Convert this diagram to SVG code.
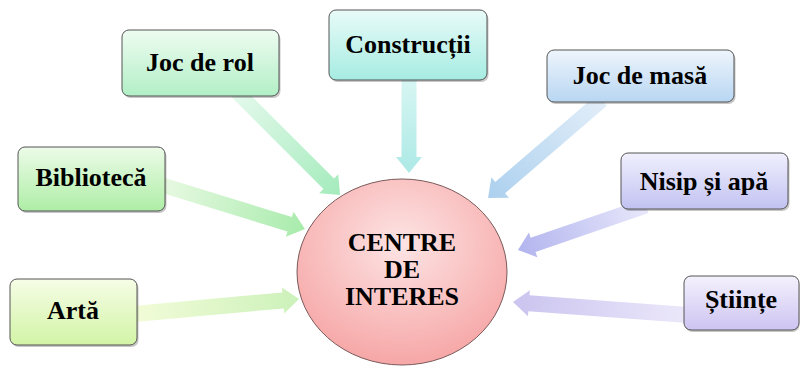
<svg xmlns="http://www.w3.org/2000/svg" width="800" height="366" viewBox="0 0 800 366">
<defs>
  <linearGradient id="gRol" x1="0" y1="0" x2="0" y2="1"><stop offset="0" stop-color="#eefcf1"/><stop offset="1" stop-color="#b2efc6"/></linearGradient>
  <linearGradient id="gCon" x1="0" y1="0" x2="0" y2="1"><stop offset="0" stop-color="#e8fbf8"/><stop offset="1" stop-color="#a6ece2"/></linearGradient>
  <linearGradient id="gMas" x1="0" y1="0" x2="0" y2="1"><stop offset="0" stop-color="#eef5fc"/><stop offset="1" stop-color="#b8d6f2"/></linearGradient>
  <linearGradient id="gNis" x1="0" y1="0" x2="0" y2="1"><stop offset="0" stop-color="#f0f0fd"/><stop offset="1" stop-color="#c2c2f2"/></linearGradient>
  <linearGradient id="gBib" x1="0" y1="0" x2="0" y2="1"><stop offset="0" stop-color="#ecfbe8"/><stop offset="1" stop-color="#aeeea6"/></linearGradient>
  <linearGradient id="gArt" x1="0" y1="0" x2="0" y2="1"><stop offset="0" stop-color="#f6fde6"/><stop offset="1" stop-color="#d2f4a6"/></linearGradient>
  <linearGradient id="gSti" x1="0" y1="0" x2="0" y2="1"><stop offset="0" stop-color="#f4f1fd"/><stop offset="1" stop-color="#cdc4f2"/></linearGradient>
  <linearGradient id="aRol" x1="0" y1="0" x2="1" y2="0"><stop offset="0" stop-color="#e4f9ec"/><stop offset="1" stop-color="#a4ebbc"/></linearGradient>
  <linearGradient id="aCon" x1="0" y1="0" x2="1" y2="0"><stop offset="0" stop-color="#d8f6f3"/><stop offset="1" stop-color="#ace9e5"/></linearGradient>
  <linearGradient id="aMas" x1="0" y1="0" x2="1" y2="0"><stop offset="0" stop-color="#e2eef9"/><stop offset="1" stop-color="#acd0ee"/></linearGradient>
  <linearGradient id="aNis" x1="0" y1="0" x2="1" y2="0"><stop offset="0" stop-color="#e8e8fb"/><stop offset="1" stop-color="#b2b4ee"/></linearGradient>
  <linearGradient id="aBib" x1="0" y1="0" x2="1" y2="0"><stop offset="0" stop-color="#e8f9e2"/><stop offset="1" stop-color="#a8ebac"/></linearGradient>
  <linearGradient id="aArt" x1="0" y1="0" x2="1" y2="0"><stop offset="0" stop-color="#f2fcd8"/><stop offset="1" stop-color="#ccf1ba"/></linearGradient>
  <linearGradient id="aSti" x1="0" y1="0" x2="1" y2="0"><stop offset="0" stop-color="#ece8fa"/><stop offset="1" stop-color="#cac4ef"/></linearGradient>
  <radialGradient id="gCirc" cx="0.5" cy="0.35" r="0.7"><stop offset="0" stop-color="#fde4e4"/><stop offset="1" stop-color="#f6a2a2"/></radialGradient>
</defs>

<g id="connectors">
  <polygon transform="translate(237,92) rotate(45)" fill="url(#aRol)" points="0,-7.5 129.7,-7.5 129.7,-13.5 145.7,0 129.7,13.5 129.7,7.5 0,7.5"/>
  <polygon transform="translate(409,78) rotate(90)" fill="url(#aCon)" points="0,-7.5 79,-7.5 79,-13 95,0 79,13 79,7.5 0,7.5"/>
  <polygon transform="translate(602,100) rotate(139.3)" fill="url(#aMas)" points="0,-7.5 134.3,-7.5 134.3,-13.5 150.3,0 134.3,13.5 134.3,7.5 0,7.5"/>
  <polygon transform="translate(646,206) rotate(161)" fill="url(#aNis)" points="0,-7.5 119.4,-7.5 119.4,-13 135.4,0 119.4,13 119.4,7.5 0,7.5"/>
  <polygon transform="translate(162,185) rotate(17.1)" fill="url(#aBib)" points="0,-7.5 133.6,-7.5 133.6,-13 149.6,0 133.6,13 133.6,7.5 0,7.5"/>
  <polygon transform="translate(134,314) rotate(-5.2)" fill="url(#aArt)" points="0,-8 149.7,-8 149.7,-13 165.7,0 149.7,13 149.7,8 0,8"/>
  <polygon transform="translate(688,315) rotate(184.25)" fill="url(#aSti)" points="0,-8 159.5,-8 159.5,-13 175.5,0 159.5,13 159.5,8 0,8"/>
</g>

<g id="centre">
  <ellipse cx="402" cy="272" rx="105" ry="93" fill="url(#gCirc)" stroke="#7a5a5a" stroke-width="1"/>
  <text x="402" y="251" style="font-family:'Liberation Serif','Times New Roman',serif;font-size:26px;font-weight:bold" text-anchor="middle">CENTRE</text>
  <text x="402" y="278" style="font-family:'Liberation Serif','Times New Roman',serif;font-size:26px;font-weight:bold" text-anchor="middle">DE</text>
  <text x="402" y="305" style="font-family:'Liberation Serif','Times New Roman',serif;font-size:26px;font-weight:bold" text-anchor="middle">INTERES</text>
</g>

<g id="joc-de-rol">
  <rect x="123.5" y="32" width="157" height="66" rx="7" fill="#000" fill-opacity="0.22"/>
  <rect x="122" y="30" width="157" height="66" rx="7" fill="url(#gRol)" stroke="#555"/>
  <text x="200" y="71" style="font-family:'Liberation Serif','Times New Roman',serif;font-size:26px;font-weight:bold" text-anchor="middle">Joc de rol</text>
</g>
<g id="constructii">
  <rect x="330.5" y="12" width="158" height="70" rx="7" fill="#000" fill-opacity="0.22"/>
  <rect x="329" y="10" width="158" height="70" rx="7" fill="url(#gCon)" stroke="#555"/>
  <text x="408" y="53" style="font-family:'Liberation Serif','Times New Roman',serif;font-size:26px;font-weight:bold" text-anchor="middle">Construcții</text>
</g>
<g id="joc-de-masa">
  <rect x="548.5" y="52" width="187" height="52" rx="7" fill="#000" fill-opacity="0.22"/>
  <rect x="547" y="50" width="187" height="52" rx="7" fill="url(#gMas)" stroke="#555"/>
  <text x="640" y="84" style="font-family:'Liberation Serif','Times New Roman',serif;font-size:26px;font-weight:bold" text-anchor="middle">Joc de masă</text>
</g>
<g id="nisip-si-apa">
  <rect x="622.5" y="155" width="167" height="56" rx="7" fill="#000" fill-opacity="0.22"/>
  <rect x="621" y="153" width="167" height="56" rx="7" fill="url(#gNis)" stroke="#555"/>
  <text x="704" y="190" style="font-family:'Liberation Serif','Times New Roman',serif;font-size:26px;font-weight:bold" text-anchor="middle">Nisip și apă</text>
</g>
<g id="biblioteca">
  <rect x="19.5" y="149" width="147" height="64" rx="7" fill="#000" fill-opacity="0.22"/>
  <rect x="18" y="147" width="147" height="64" rx="7" fill="url(#gBib)" stroke="#555"/>
  <text x="91" y="186" style="font-family:'Liberation Serif','Times New Roman',serif;font-size:26px;font-weight:bold" text-anchor="middle">Bibliotecă</text>
</g>
<g id="arta">
  <rect x="11.5" y="281" width="127" height="66" rx="7" fill="#000" fill-opacity="0.22"/>
  <rect x="10" y="279" width="127" height="66" rx="7" fill="url(#gArt)" stroke="#555"/>
  <text x="73" y="319" style="font-family:'Liberation Serif','Times New Roman',serif;font-size:26px;font-weight:bold" text-anchor="middle">Artă</text>
</g>
<g id="stiinte">
  <rect x="685.5" y="278" width="114" height="54" rx="7" fill="#000" fill-opacity="0.22"/>
  <rect x="684" y="276" width="115" height="54" rx="7" fill="url(#gSti)" stroke="#555"/>
  <text x="741" y="308" style="font-family:'Liberation Serif','Times New Roman',serif;font-size:26px;font-weight:bold" text-anchor="middle">Științe</text>
</g>
</svg>
